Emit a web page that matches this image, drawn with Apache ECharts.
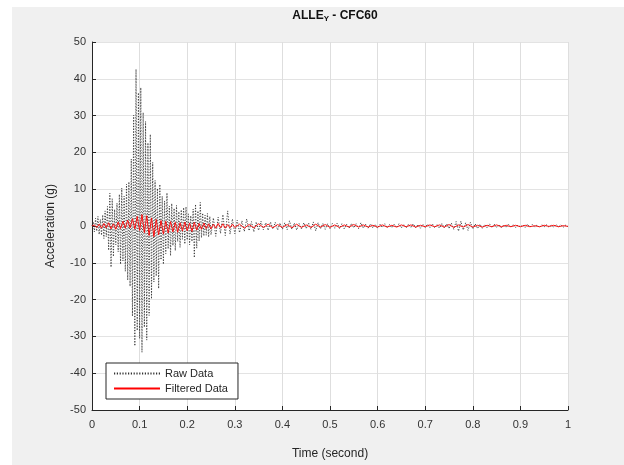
<!DOCTYPE html>
<html>
<head>
<meta charset="utf-8">
<script src="https://cdn.jsdelivr.net/npm/echarts@6/dist/echarts.min.js"></script>
<style>
html,body{margin:0;padding:0;background:#fff;}
#c{width:624px;height:465px;}
</style>
</head>
<body>
<div id="c"></div>
<script>
// Raw data, first part: t = 0 .. 0.25 s, step 0.0025 s
const rawEarlyStart = 0, rawEarlyStep = 0.0025;
const rawEarly = [
  0, 1.2, -1.6, 2.1, -1.4, 2.6, -2.3, 1.8, -2.5, 3.0,
  -3.4, 4.1, -2.9, 5.3, -6.6, 8.9, -11.2, 7.4, -8.3, 4.5,
  -5.1, 6.2, -7.0, 8.6, -10.4, 10.3, -9.5, 8.1, -12.3, 11.4,
  -14.7, 12.0, -16.4, 18.2, -24.5, 30.1, -32.6, 42.6, -28.4, 36.2,
  -30.5, 37.6, -34.3, 30.8, -27.5, 28.4, -31.0, 22.6, -24.3, 24.9,
  -19.8, 17.3, -15.2, 12.4, -13.6, 10.2, -17.0, 11.3, -9.2, 8.1,
  -10.4, 6.8, -7.5, 9.0, -6.2, 5.4, -8.1, 6.1, -5.3, 4.8,
  -6.7, 5.6, -4.2, 3.9, -5.8, 4.4, -3.6, 5.0, -4.9, 5.2,
  -3.8, 3.3, -5.1, 2.8, -4.2, 4.6, -8.6, 5.9, -6.0, 4.1,
  -4.1, 6.4, -3.2, 3.5, -2.7, 2.9, -2.5, 3.4, -3.0, 2.6,
  -2.4
];
// Raw data, second part: t = 0.255 .. 1.0 s, step 0.005 s
const rawLateStart = 0.255, rawLateStep = 0.005;
const rawLate = [
  2.2, -2.8, 2.4, -2.0, 3.1, -2.6, 4.1, -2.2, 1.9, -2.1,
  1.6, -1.8, 1.4, -1.5, 1.9, -1.3, 1.2, -1.6, 1.1, -1.2,
  1.3, -1.0, 0.9, -1.2, 1.1, -0.8, 1.0, -1.1, 0.8, -0.9,
  0.9, -1.0, 1.4, -0.9, 0.8, -1.1, 0.7, -0.8, 0.9, -0.7,
  0.8, -0.9, 1.1, -1.3, 0.9, -0.8, 0.7, -0.9, 0.6, -0.7,
  0.7, -0.6, 0.8, -0.7, 0.6, -0.8, 0.5, -0.6, 0.7, -0.5,
  0.6, -0.7, 0.9, -0.6, 0.5, -0.6, 0.6, -0.5, 0.4, -0.6,
  0.5, -0.4, 0.6, -0.5, 0.4, -0.5, 0.5, -0.4, 0.6, -0.5,
  0.4, -0.5, 0.5, -0.4, 0.6, -0.5, 0.4, -0.6, 0.5, -0.4,
  0.5, -0.4, 0.6, -0.5, 0.4, -0.6, 0.7, -0.5, 0.6, -0.7,
  0.8, -0.9, 1.2, -1.4, 1.3, -1.1, 0.9, -1.2, 1.0, -0.8,
  0.6, -0.7, 0.5, -0.6, 0.4, -0.5, 0.6, -0.4, 0.5, -0.4,
  0.4, -0.5, 0.3, -0.4, 0.5, -0.3, 0.4, -0.4, 0.3, -0.3,
  0.3, -0.4, 0.5, -0.3, 0.4, -0.3, 0.3, -0.4, 0.3, -0.2,
  0.3, -0.3, 0.2, -0.3, 0.4, -0.2, 0.3, -0.3, 0.2, -0.2
];
// Filtered (CFC60) data, first part: t = 0 .. 0.3 s, step 0.005 s
const filtEarlyStart = 0, filtEarlyStep = 0.005;
const filtEarly = [
  0, 0.3, -0.4, 0.5, -0.6, 0.7, -0.5, 0.9, -0.8, 0.6,
  -0.9, 1.1, -0.7, 1.3, -0.6, 1.6, -0.5, 2.0, -0.8, 2.6,
  -1.2, 3.1, -1.8, 2.8, -2.6, 2.2, -2.9, 1.8, -2.4, 1.5,
  -2.2, 1.3, -1.9, 1.2, -1.6, 1.0, -1.7, 0.9, -1.4, 1.1,
  -1.3, 0.8, -1.5, 1.0, -1.1, 0.7, -0.9, 0.8, -0.7, 0.6,
  -0.8, 0.5, -0.6, 0.7, -0.5, 0.6, -0.6, 0.4, -0.5, 0.5,
  -0.4
];
// Filtered data, second part: t = 0.31 .. 1.0 s, step 0.01 s
const filtLateStart = 0.31, filtLateStep = 0.01;
const filtLate = [
  0.5, -0.6, 0.4, -0.5, 0.6, -0.4, 0.5, -0.5, 0.4, -0.4,
  0.4, -0.5, 0.5, -0.4, 0.3, -0.4, 0.5, -0.3, 0.4, -0.4,
  0.3, -0.4, 0.3, -0.3, 0.4, -0.3, 0.3, -0.3, 0.2, -0.3,
  0.3, -0.3, 0.2, -0.3, 0.3, -0.2, 0.3, -0.3, 0.2, -0.2,
  0.3, -0.2, 0.3, -0.3, 0.4, -0.4, 0.3, -0.3, 0.4, -0.3,
  0.2, -0.3, 0.2, -0.2, 0.3, -0.2, 0.2, -0.2, 0.2, -0.2,
  0.2, -0.2, 0.1, -0.2, 0.2, -0.1, 0.2, -0.2, 0.1, -0.1
];
const xTicks = [0, 0.1, 0.2, 0.3, 0.4, 0.5, 0.6, 0.7, 0.8, 0.9, 1];
const yTicks = [-50, -40, -30, -20, -10, 0, 10, 20, 30, 40, 50];
const seriesNames = ['Raw Data', 'Filtered Data'];

function toPairs(start, step, vals) {
  return vals.map((v, i) => [+(start + i * step).toFixed(4), v]);
}
const rawData = toPairs(rawEarlyStart, rawEarlyStep, rawEarly).concat(toPairs(rawLateStart, rawLateStep, rawLate));
const filtData = toPairs(filtEarlyStart, filtEarlyStep, filtEarly).concat(toPairs(filtLateStart, filtLateStep, filtLate));

const FONT = '"Liberation Sans", Arial, sans-serif';
const chart = echarts.init(document.getElementById('c'), null, {renderer: 'canvas'});
chart.setOption({
  animation: false,
  backgroundColor: '#ffffff',
  graphic: [{
    type: 'rect', z: -10, silent: true,
    shape: {x: 12, y: 7, width: 612, height: 458},
    style: {fill: '#f0f0f0'}
  }],
  title: {
    text: '{a|ALLE}{b|Y}{a| - CFC60}',
    left: 330, top: 4, textAlign: 'center',
    textStyle: {
      rich: {
        a: {fontFamily: FONT, fontSize: 12, fontWeight: 'bold', color: '#111'},
        b: {fontFamily: FONT, fontSize: 8, fontWeight: 'bold', color: '#111', verticalAlign: 'bottom', padding: [6, 0, 0, 0]}
      }
    }
  },
  grid: {
    left: 92, top: 42, width: 476, height: 375,
    show: true, backgroundColor: '#ffffff', borderWidth: 0
  },
  legend: {
    data: seriesNames,
    orient: 'vertical',
    left: 106, top: 363,
    padding: [5, 10, 5, 7],
    itemGap: 4,
    itemWidth: 46, itemHeight: 12,
    itemStyle: {opacity: 0},
    backgroundColor: '#ffffff',
    borderColor: '#262626', borderWidth: 1, borderRadius: 0,
    textStyle: {fontFamily: FONT, fontSize: 11, color: '#262626'}
  },
  xAxis: {
    type: 'value', min: xTicks[0], max: xTicks[xTicks.length - 1], interval: 0.1,
    name: 'Time (second)', nameLocation: 'middle', nameGap: 38,
    nameTextStyle: {fontFamily: FONT, fontSize: 12, color: '#262626'},
    axisLine: {show: true, onZero: false, lineStyle: {color: '#262626', width: 1}},
    axisTick: {show: true, inside: true, length: 4, lineStyle: {color: '#262626'}},
    axisLabel: {fontFamily: FONT, fontSize: 11, color: '#333', margin: 9,
      formatter: v => String(+v.toFixed(1))},
    splitLine: {show: true, lineStyle: {color: '#dedede', width: 1}}
  },
  yAxis: {
    type: 'value', min: yTicks[0], max: yTicks[yTicks.length - 1], interval: 10,
    name: 'Acceleration (g)', nameLocation: 'middle', nameGap: 35,
    nameTextStyle: {fontFamily: FONT, fontSize: 12, color: '#262626'},
    axisLine: {show: true, onZero: false, lineStyle: {color: '#262626', width: 1}},
    axisTick: {show: true, inside: true, length: 4, lineStyle: {color: '#262626'}},
    axisLabel: {fontFamily: FONT, fontSize: 11, color: '#333', margin: 6},
    splitLine: {show: true, lineStyle: {color: '#e3e3e3', width: 1}}
  },
  series: [
    {
      name: seriesNames[0], type: 'line', data: rawData,
      symbol: 'none', showSymbol: false,
      lineStyle: {color: '#333', width: 0.9, type: [1.2, 1.6]},
      itemStyle: {color: '#444'},
      z: 2
    },
    {
      name: seriesNames[1], type: 'line', data: filtData,
      symbol: 'none', showSymbol: false,
      lineStyle: {color: '#ff0000', width: 0.9},
      itemStyle: {color: '#ff0000'},
      z: 3
    }
  ]
});
</script>
</body>
</html>
